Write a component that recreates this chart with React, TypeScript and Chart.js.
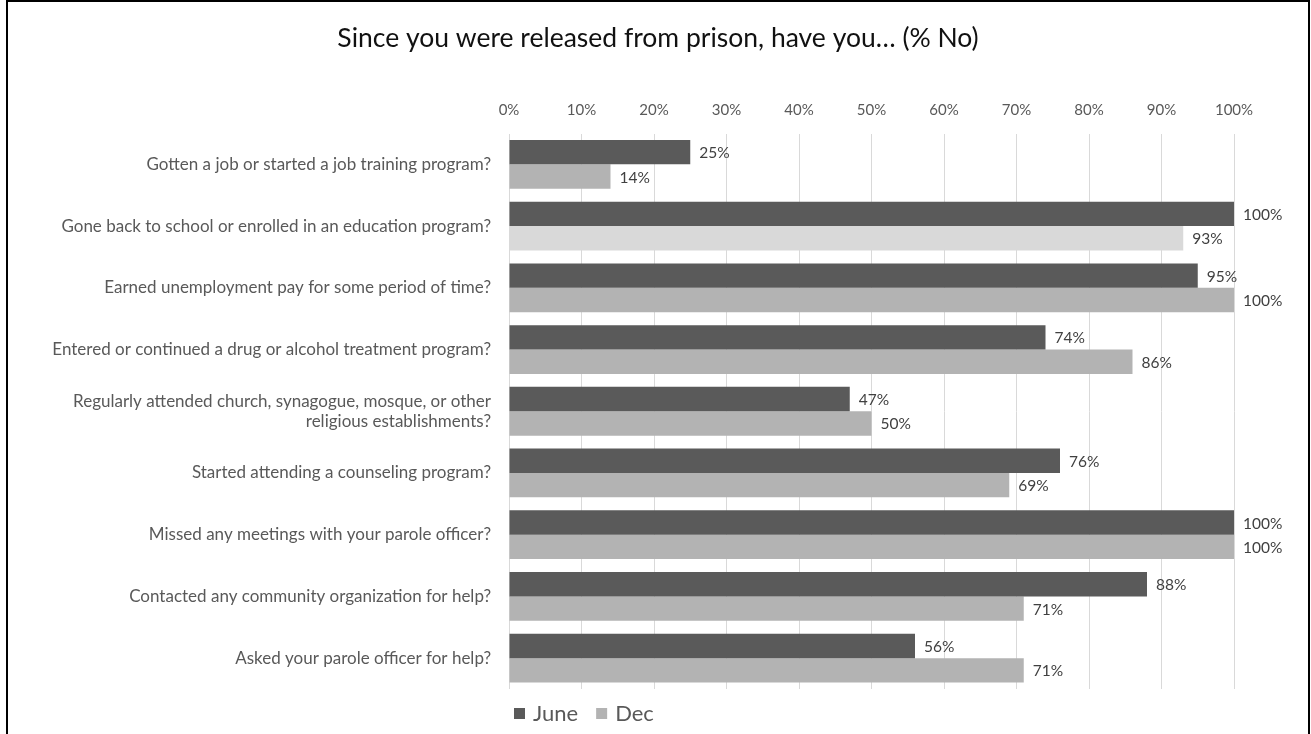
import React, { useEffect, useRef } from "react";
import { Chart, registerables } from "chart.js";

Chart.register(...registerables);

const categories: (string | string[])[] = [
  "Gotten a job or started a job training program?",
  "Gone back to school or enrolled in an education program?",
  "Earned unemployment pay for some period of time?",
  "Entered or continued a drug or alcohol treatment program?",
  ["Regularly attended church, synagogue, mosque, or other", "religious establishments?"],
  "Started attending a counseling program?",
  "Missed any meetings with your parole officer?",
  "Contacted any community organization for help?",
  "Asked your parole officer for help?",
];

const juneValues = [25, 100, 95, 74, 47, 76, 100, 88, 56];
const decValues = [14, 93, 100, 86, 50, 69, 100, 71, 71];

const seriesNames = ["June", "Dec"];
const tickValues = [0, 10, 20, 30, 40, 50, 60, 70, 80, 90, 100];
const titleText = "Since you were released from prison, have you… (% No)";

const FONT = "Lato, 'Open Sans', sans-serif";
const JUNE_COLOR = "#5a5a5a";
const DEC_COLOR = "#b3b3b3";
const DEC_LIGHT = "#d9d9d9";

const titlePlugin = {
  id: "centeredTitle",
  afterDraw(chart: any) {
    const ctx = chart.ctx;
    ctx.save();
    ctx.font = `26.5px ${FONT}`;
    ctx.fillStyle = "#111111";
    ctx.textAlign = "center";
    ctx.textBaseline = "middle";
    ctx.fillText(titleText, 658, 38);
    ctx.restore();
  },
};

const dataLabelPlugin = {
  id: "dataLabels",
  afterDatasetsDraw(chart: any) {
    const ctx = chart.ctx;
    ctx.save();
    ctx.font = `15.5px ${FONT}`;
    ctx.fillStyle = "#404040";
    ctx.textAlign = "left";
    ctx.textBaseline = "middle";
    chart.data.datasets.forEach((ds: any, di: number) => {
      const meta = chart.getDatasetMeta(di);
      meta.data.forEach((el: any, i: number) => {
        ctx.fillText(`${ds.data[i]}%`, el.x + 9, el.y + 1);
      });
    });
    ctx.restore();
  },
};

const legendPlugin = {
  id: "customLegend",
  afterDraw(chart: any) {
    const ctx = chart.ctx;
    const area = chart.chartArea;
    ctx.save();
    ctx.font = `22px ${FONT}`;
    ctx.textBaseline = "middle";
    ctx.textAlign = "left";
    const y = area.bottom + 25;
    let x = area.left + 5;
    const colors = [JUNE_COLOR, DEC_COLOR];
    seriesNames.forEach((name, i) => {
      ctx.fillStyle = colors[i];
      ctx.fillRect(x, y - 6, 11, 11);
      x += 19;
      ctx.fillStyle = "#595959";
      ctx.fillText(name, x, y);
      x += ctx.measureText(name).width + 18;
    });
    ctx.restore();
  },
};

export default function App() {
  const canvasRef = useRef<HTMLCanvasElement | null>(null);

  useEffect(() => {
    if (!canvasRef.current) return;
    const chart = new Chart(canvasRef.current, {
      type: "bar",
      data: {
        labels: categories,
        datasets: [
          {
            label: seriesNames[0],
            data: juneValues,
            backgroundColor: JUNE_COLOR,
            barPercentage: 1,
            categoryPercentage: 0.79,
          },
          {
            label: seriesNames[1],
            data: decValues,
            backgroundColor: decValues.map((_, i) => (i === 1 ? DEC_LIGHT : DEC_COLOR)),
            barPercentage: 1,
            categoryPercentage: 0.79,
          },
        ],
      },
      options: {
        indexAxis: "y",
        animation: false,
        responsive: true,
        maintainAspectRatio: false,
        layout: { padding: { left: 0, right: 77, top: 61.4, bottom: 45 } },
        plugins: {
          legend: { display: false },
          tooltip: { enabled: false },
          title: { display: false },
        },
        scales: {
          x: {
            position: "top",
            min: 0,
            max: 100,
            afterBuildTicks(scale: any) {
              scale.ticks = tickValues.map((v) => ({ value: v }));
            },
            afterFit(scale: any) {
              scale.height = 72.1;
            },
            ticks: {
              color: "#595959",
              font: { family: FONT, size: 15 },
              padding: 14.5,
              callback: (v: any) => `${v}%`,
            },
            grid: { color: "#d9d9d9", lineWidth: 1, drawTicks: false },
            border: { display: false },
          },
          y: {
            afterFit(scale: any) {
              scale.width = 509;
            },
            ticks: {
              color: "#595959",
              font: { family: FONT, size: 17, lineHeight: 1.18 },
              padding: 18,
              autoSkip: false,
            },
            grid: { display: false, drawTicks: false },
            border: { display: false },
          },
        },
      },
      plugins: [dataLabelPlugin, legendPlugin, titlePlugin],
    });
    return () => chart.destroy();
  }, []);

  return (
    <>
      <div style={{ position: "fixed", left: 0, top: 0, width: 1311, height: 734, background: "#fff" }}>
        <canvas ref={canvasRef} />
      </div>
      <div
        style={{
          position: "fixed",
          left: 6,
          top: 0,
          width: 1304,
          height: 800,
          boxSizing: "border-box",
          border: "2px solid #000",
          pointerEvents: "none",
        }}
      />
    </>
  );
}
